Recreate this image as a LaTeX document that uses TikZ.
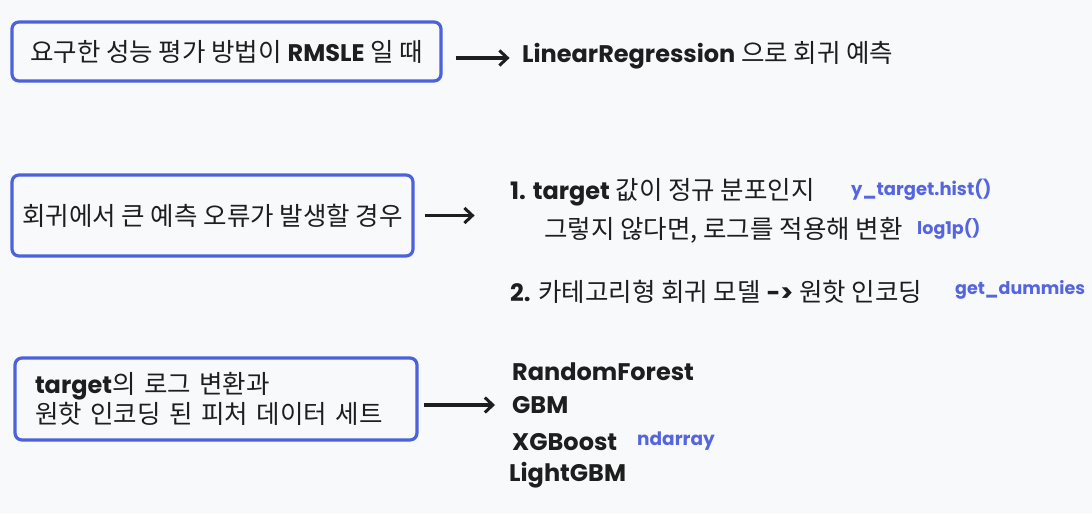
\documentclass[tikz,border=0pt]{standalone}
\usepackage{fontspec}
\usetikzlibrary{arrows.meta}
\setmainfont{Noto Sans CJK KR}
\newfontfamily\hand{Poppins}
\definecolor{bg}{HTML}{F8F9FA}
\definecolor{boxblue}{HTML}{4C61DC}
\definecolor{codeblue}{HTML}{5565E0}
\definecolor{ink}{HTML}{1E1E1E}
\newcommand{\kr}{\fontsize{25.5}{30}\selectfont}
\newcommand{\hw}[1]{{\hand\bfseries\fontsize{24}{28}\selectfont #1}}
\newcommand{\code}[2]{{\hand\bfseries\fontsize{#1}{20}\selectfont\color{codeblue}#2}}
\begin{document}
\begin{tikzpicture}[x=1pt,y=-1pt,
  box/.style={draw=boxblue,line width=3.2pt,rounded corners=7pt,inner sep=0pt,text=ink,font=\kr},
  txt/.style={anchor=west,inner sep=0pt,text=ink,font=\kr},
  arr/.style={draw=ink,line width=3.2pt,-{Straight Barb[length=8pt,width=15pt,line width=3pt]}},
  model/.style={anchor=west,inner sep=0pt,text=ink,font=\hand\bfseries\fontsize{24}{28}\selectfont}]
\fill[bg] (0,0) rectangle (1092,514);
\useasboundingbox (0,0) rectangle (1092,514);
% row 1
\node[box,minimum width=429pt,minimum height=59pt] (b1) at (226.5,51.5) {요구한 성능 평가 방법이 \hw{RMSLE} 일 때};
\node[txt] (t1) at (522,55) {\hw{LinearRegression} 으로 회귀 예측};
\draw[arr] ([xshift=13pt,yshift=-6.5pt]b1.east) -- ++(54,0);
% row 2
\node[box,minimum width=401pt,minimum height=81pt] (b2) at (212.5,215.5) {회귀에서 큰 예측 오류가 발생할 경우};
\draw[arr] ([xshift=10pt]b2.east) -- ++(50,0);
\node[txt] (l1) at (510,192) {\hw{1. target} 값이 정규 분포인지};
\node[anchor=west,inner sep=0pt] (c1) at (851,190) {\code{18}{y\_target.hist()}};
\node[txt] (l2) at (544,230) {그렇지 않다면, 로그를 적용해 변환};
\node[anchor=west,inner sep=0pt] (c2) at (917,229) {\code{17.5}{log1p()}};
\node[txt] (l3) at (510,292) {\hw{2.} 카테고리형 회귀 모델 \hw{->} 원핫 인코딩};
\node[anchor=west,inner sep=0pt] (c3) at (955,290) {\code{17.5}{get\_dummies}};
% row 3
\node[box,text width=362pt,inner xsep=20pt,minimum height=82pt,align=left] (b3) at (216,399) {\hw{target}의 로그 변환과\\원핫 인코딩 된 피처 데이터 세트};
\node[model] (m1) at (512,372) {RandomForest};
\node[model] (m2) at (512,405) {GBM};
\node[model] (m3) at (512,442) {XGBoost};
\node[anchor=west,inner sep=0pt] (c4) at (637,441) {\code{18.5}{ndarray}};
\node[model] (m4) at (509,475) {LightGBM};
\draw[arr] ([xshift=5pt]b3.east |- m2.west) -- ([xshift=-17pt]m2.west);
\end{tikzpicture}
\end{document}
